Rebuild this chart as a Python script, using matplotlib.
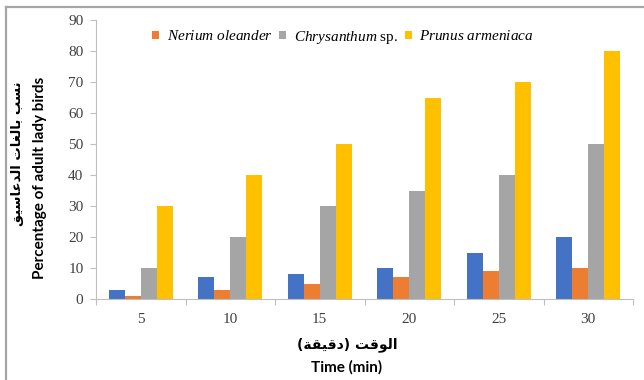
import matplotlib
matplotlib.use("Agg")
import matplotlib.pyplot as plt
import numpy as np
from matplotlib.lines import Line2D

plt.rcParams["mathtext.fontset"] = "custom"
plt.rcParams["mathtext.rm"] = "Liberation Serif"
plt.rcParams["mathtext.it"] = "Liberation Serif:italic"

# exposure time (min) and % adult ladybirds per host plant
times = ["5", "10", "15", "20", "25", "30"]
control = [3, 7, 8, 10, 15, 20]
nerium = [1, 3, 5, 7, 9, 10]
chrysanthum = [10, 20, 30, 35, 40, 50]
prunus = [30, 40, 50, 65, 70, 80]

series = [
    (control, "#4472C4", None),
    (nerium, "#ED7D31", r"$\mathit{Nerium\ oleander}$"),
    (chrysanthum, "#A5A5A5", r"$\mathit{Chrysanthum}$ sp."),
    (prunus, "#FFC000", r"$\mathit{Prunus\ armeniaca}$"),
]

# matplotlib does no Arabic shaping/bidi, so pick presentation forms by hand
FORMS = {
    "ا": ("\uFE8D", "\uFE8E", None, None),
    "ب": ("\uFE8F", "\uFE90", "\uFE91", "\uFE92"),
    "ت": ("\uFE95", "\uFE96", "\uFE97", "\uFE98"),
    "ة": ("\uFE93", "\uFE94", None, None),
    "د": ("\uFEA9", "\uFEAA", None, None),
    "س": ("\uFEB1", "\uFEB2", "\uFEB3", "\uFEB4"),
    "ع": ("\uFEC9", "\uFECA", "\uFECB", "\uFECC"),
    "غ": ("\uFECD", "\uFECE", "\uFECF", "\uFED0"),
    "ق": ("\uFED5", "\uFED6", "\uFED7", "\uFED8"),
    "ل": ("\uFEDD", "\uFEDE", "\uFEDF", "\uFEE0"),
    "ن": ("\uFEE5", "\uFEE6", "\uFEE7", "\uFEE8"),
    "و": ("\uFEED", "\uFEEE", None, None),
    "ي": ("\uFEF1", "\uFEF2", "\uFEF3", "\uFEF4"),
}


def shape_word(word):
    out = []
    for i, ch in enumerate(word):
        iso, fin, ini, med = FORMS[ch]
        joined_before = i > 0 and FORMS[word[i - 1]][2] is not None
        joins_after = i < len(word) - 1 and ini is not None
        if joined_before and joins_after:
            out.append(med)
        elif joined_before:
            out.append(fin)
        elif joins_after:
            out.append(ini)
        else:
            out.append(iso)
    return "".join(reversed(out))


def rtl(text):
    return " ".join(shape_word(w) for w in reversed(text.split()))


fig = plt.figure(figsize=(6.44, 3.80), dpi=100)
ax = fig.add_axes([96 / 644, 1 - 299 / 380, (633 - 96) / 644, (299 - 20) / 380])

x = np.arange(len(times))
width = 0.18
for k, (vals, color, label) in enumerate(series):
    ax.bar(x + (k - 1.5) * width, vals, width, color=color,
           label=label if label else "_nolegend_")

ax.set_xlim(-0.5, len(times) - 0.5)
ax.set_ylim(0, 90)
ax.set_yticks(range(0, 91, 10))
ax.set_xticks(x)
ax.set_xticklabels(times)
ax.set_xticks(np.arange(-0.5, len(times)), minor=True)
ax.tick_params(axis="x", which="major", length=0, pad=10)
ax.tick_params(axis="x", which="minor", length=4, color="#bfbfbf", width=0.8)
ax.tick_params(axis="y", length=4, color="#bfbfbf", width=0.8, pad=5)
for lab in ax.get_xticklabels() + ax.get_yticklabels():
    lab.set_fontfamily("Liberation Serif")
    lab.set_fontsize(11)
    lab.set_color("#404040")
ax.spines[["top", "right"]].set_visible(False)
ax.spines["left"].set_color("#bfbfbf")
ax.spines["bottom"].set_color("#bfbfbf")
ax.spines["left"].set_linewidth(0.8)
ax.spines["bottom"].set_linewidth(0.8)

ax.legend(loc="center", bbox_to_anchor=(343 / 644, 1 - 37 / 380),
          bbox_transform=fig.transFigure, ncol=3, frameon=False,
          handlelength=0.45, handleheight=0.45, handletextpad=0.5,
          columnspacing=0.45, prop={"family": "Liberation Serif", "size": 11})

label_font = ["Lato", "DejaVu Sans"]
fig.text(18 / 644, 1 - 82 / 380, rtl("نسب بالغات الدعاسيق"), rotation=90,
         ha="center", va="top", fontsize=9.5, fontweight="bold",
         family=["DejaVu Sans"])
fig.text(40 / 644, 1 - 77 / 380, "Percentage of adult lady birds",
         rotation=90, ha="center", va="top", fontsize=11,
         fontweight="bold", family=label_font)
fig.text(347 / 644, 1 - 345 / 380,
         f"({shape_word('دقيقة')}) {shape_word('الوقت')}",
         ha="center", va="center", fontsize=10, fontweight="bold",
         family=["DejaVu Sans"])
fig.text(347 / 644, 1 - 367 / 380, "Time (min)", ha="center", va="center",
         fontsize=11, fontweight="bold", family=label_font)

# chart-area frame (left and top edges)
fig.add_artist(Line2D([6 / 644, 6 / 644], [0, 1 - 7 / 380],
                      transform=fig.transFigure, color="#a6a6a6", lw=1.6))
fig.add_artist(Line2D([6 / 644, 1], [1 - 7 / 380, 1 - 7 / 380],
                      transform=fig.transFigure, color="#a6a6a6", lw=1.6))

fig.savefig("out.png", dpi=100)
